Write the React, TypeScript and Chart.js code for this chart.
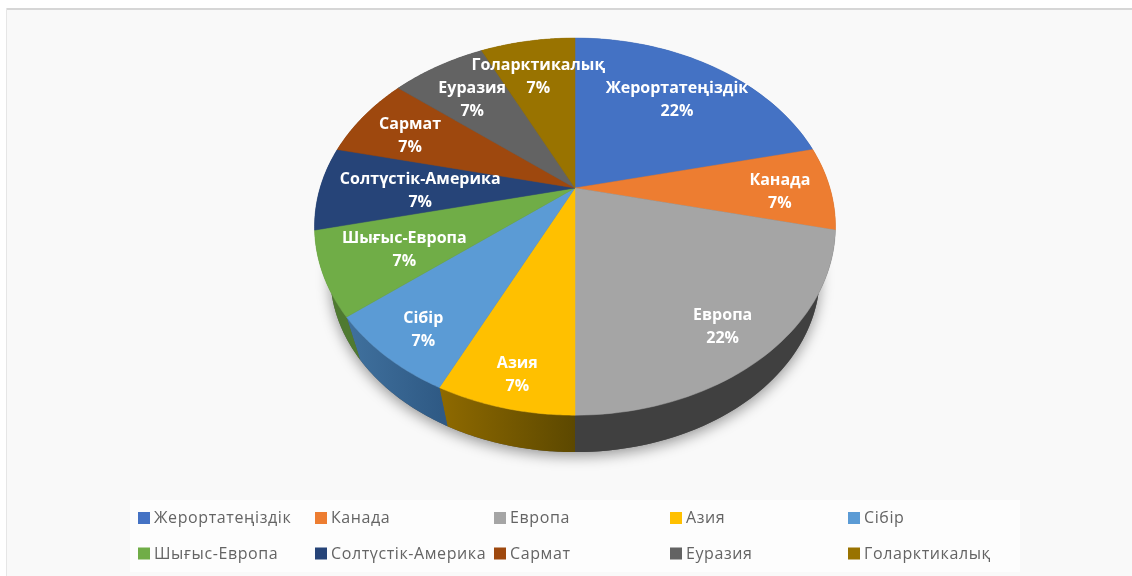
import React, { useEffect, useRef } from "react";
import { Chart, registerables } from "chart.js";

Chart.register(...registerables);

const categories = ["Жерортатеңіздік", "Канада", "Европа", "Азия", "Сібір", "Шығыс-Европа", "Солтүстік-Америка", "Сармат", "Еуразия", "Голарктикалық"];
const sliceWeights = [3, 1, 3, 1, 1, 1, 1, 1, 1, 1];
const percentLabels = ["22%", "7%", "22%", "7%", "7%", "7%", "7%", "7%", "7%", "7%"];
const faceColors = ["#4472C4", "#ED7D31", "#A5A5A5", "#FFC000", "#5B9BD5", "#70AD47", "#264478", "#9E480E", "#636363", "#997300"];
const wallLeft = ["#2f4f88", "#a5571f", "#404040", "#8f6a00", "#40719e", "#4f7a30", "#1a2f54", "#6e320a", "#454545", "#6b5000"];
const wallRight = ["#2f4f88", "#a5571f", "#404040", "#5c4800", "#2f5a85", "#4f7a30", "#1a2f54", "#6e320a", "#454545", "#6b5000"];
const labelRadii = [0.711, 0.802, 0.826, 0.867, 0.844, 0.7, 0.606, 0.759, 0.714, 0.736];
const labelTurns = [0.2, 0.8, 1.2, -0.4, -1.1, -0.7, -1, -0.9, -0.4, -0.1];
const legendColumns = [138, 315, 494, 670, 848];
const legendRows = [517.5, 553];

const TILT = 0.2047;
const X_STRETCH = 1.356;
const Y_STRETCH = 0.961;
const WALL_SCALE = 0.94;
const WALL_DROP = 0.269;

function project(arc: any, theta: number, r: number, wall: boolean) {
  const R = arc.outerRadius;
  const u = Math.sin(theta) * r;
  const v = Math.cos(theta) * r;
  const w = 1 + TILT * v;
  const dx = (R * X_STRETCH * u) / w;
  const dy = (-R * Y_STRETCH * v) / w;
  return wall
    ? { x: arc.x + WALL_SCALE * dx, y: arc.y + R * WALL_DROP + WALL_SCALE * dy }
    : { x: arc.x + dx, y: arc.y + dy };
}

const pie3d = {
  id: "pie3d",
  beforeDraw(chart: any) {
    const { ctx, width, height } = chart;
    ctx.save();
    ctx.fillStyle = "#ffffff";
    ctx.fillRect(0, 0, width, height);
    ctx.fillStyle = "#f9f9f9";
    ctx.fillRect(7, 9, width - 7, height - 9);
    ctx.fillStyle = "#d6d6d6";
    ctx.fillRect(6, 8, width - 6, 2);
    ctx.fillStyle = "#e6e6e6";
    ctx.fillRect(6, 8, 1, height - 8);
    ctx.fillStyle = "#fdfdfd";
    ctx.fillRect(130, 500, 890, 72);
    ctx.restore();
  },
  beforeDatasetDraw(chart: any) {
    const { ctx } = chart;
    const arcs = chart.getDatasetMeta(0).data;
    const angle = (a: number) => a + Math.PI / 2;
    const steps = 48;

    // soft shadow under the extruded rim
    ctx.save();
    ctx.shadowColor = "rgba(0,0,0,0.4)";
    ctx.shadowBlur = 14;
    ctx.shadowOffsetY = 4;
    ctx.fillStyle = "#555";
    ctx.beginPath();
    for (let i = 0; i <= 180; i++) {
      const p = project(arcs[0], (i / 180) * Math.PI * 2, 1, true);
      if (i === 0) ctx.moveTo(p.x, p.y);
      else ctx.lineTo(p.x, p.y);
    }
    ctx.closePath();
    ctx.fill();
    ctx.restore();

    // side walls
    arcs.forEach((arc: any, i: number) => {
      const a0 = angle(arc.startAngle);
      const a1 = angle(arc.endAngle);
      const top0 = project(arc, a0, 1, false);
      const top1 = project(arc, a1, 1, false);
      const minX = Math.min(top0.x, top1.x);
      const maxX = Math.max(top0.x, top1.x);
      const grad = ctx.createLinearGradient(minX, 0, maxX + 1, 0);
      grad.addColorStop(0, wallLeft[i]);
      grad.addColorStop(1, wallRight[i]);
      ctx.fillStyle = grad;
      ctx.beginPath();
      for (let s = 0; s <= steps; s++) {
        const p = project(arc, a0 + ((a1 - a0) * s) / steps, 1, false);
        if (s === 0) ctx.moveTo(p.x, p.y);
        else ctx.lineTo(p.x, p.y);
      }
      for (let s = steps; s >= 0; s--) {
        const p = project(arc, a0 + ((a1 - a0) * s) / steps, 1, true);
        ctx.lineTo(p.x, p.y);
      }
      ctx.closePath();
      ctx.fill();
    });

    // top faces
    arcs.forEach((arc: any, i: number) => {
      const a0 = angle(arc.startAngle);
      const a1 = angle(arc.endAngle);
      ctx.fillStyle = faceColors[i];
      ctx.strokeStyle = faceColors[i];
      ctx.lineWidth = 0.5;
      ctx.beginPath();
      ctx.moveTo(arc.x, arc.y);
      for (let s = 0; s <= steps; s++) {
        const p = project(arc, a0 + ((a1 - a0) * s) / steps, 1, false);
        ctx.lineTo(p.x, p.y);
      }
      ctx.closePath();
      ctx.fill();
      ctx.stroke();
    });
    return false;
  },
  afterDatasetsDraw(chart: any) {
    const { ctx } = chart;
    const arcs = chart.getDatasetMeta(0).data;
    ctx.save();
    ctx.filter = "blur(0.4px)";
    ctx.textAlign = "center";
    ctx.textBaseline = "middle";
    ctx.fillStyle = "#ffffff";
    ctx.font = "bold 16px 'Open Sans'";
    arcs.forEach((arc: any, i: number) => {
      const mid = (arc.startAngle + arc.endAngle) / 2 + Math.PI / 2 + (labelTurns[i] * Math.PI) / 180;
      const p = project(arc, mid, labelRadii[i], false);
      ctx.fillText(categories[i], p.x, p.y - 10);
      ctx.fillText(percentLabels[i], p.x, p.y + 13);
    });
    // legend laid out on the five fixed columns of the reference
    ctx.textAlign = "left";
    ctx.font = "16px 'Open Sans'";
    (ctx as any).letterSpacing = "0.6px";
    categories.forEach((name, i) => {
      const col = legendColumns[i % legendColumns.length];
      const row = legendRows[Math.floor(i / legendColumns.length)];
      ctx.fillStyle = faceColors[i];
      ctx.fillRect(col, row - 5.5, 12, 12);
      ctx.fillStyle = "#646464";
      ctx.fillText(name, col + 16, row + 1);
    });
    ctx.restore();
  },
};

export default function App() {
  const ref = useRef<HTMLCanvasElement>(null);
  useEffect(() => {
    const chart = new Chart(ref.current as HTMLCanvasElement, {
      type: "pie",
      data: {
        labels: categories,
        datasets: [{ data: sliceWeights, backgroundColor: faceColors, borderWidth: 0 }],
      },
      options: {
        responsive: false,
        animation: false,
        layout: { padding: { left: 18, right: 0, top: 0, bottom: 200 } },
        plugins: { legend: { display: false }, tooltip: { enabled: false } },
      },
      plugins: [pie3d],
    } as any);
    return () => chart.destroy();
  }, []);
  return (
    <canvas
      ref={ref}
      width={1132}
      height={576}
      style={{ position: "absolute", left: 0, top: 0, width: 1132, height: 576, display: "block" }}
    />
  );
}
